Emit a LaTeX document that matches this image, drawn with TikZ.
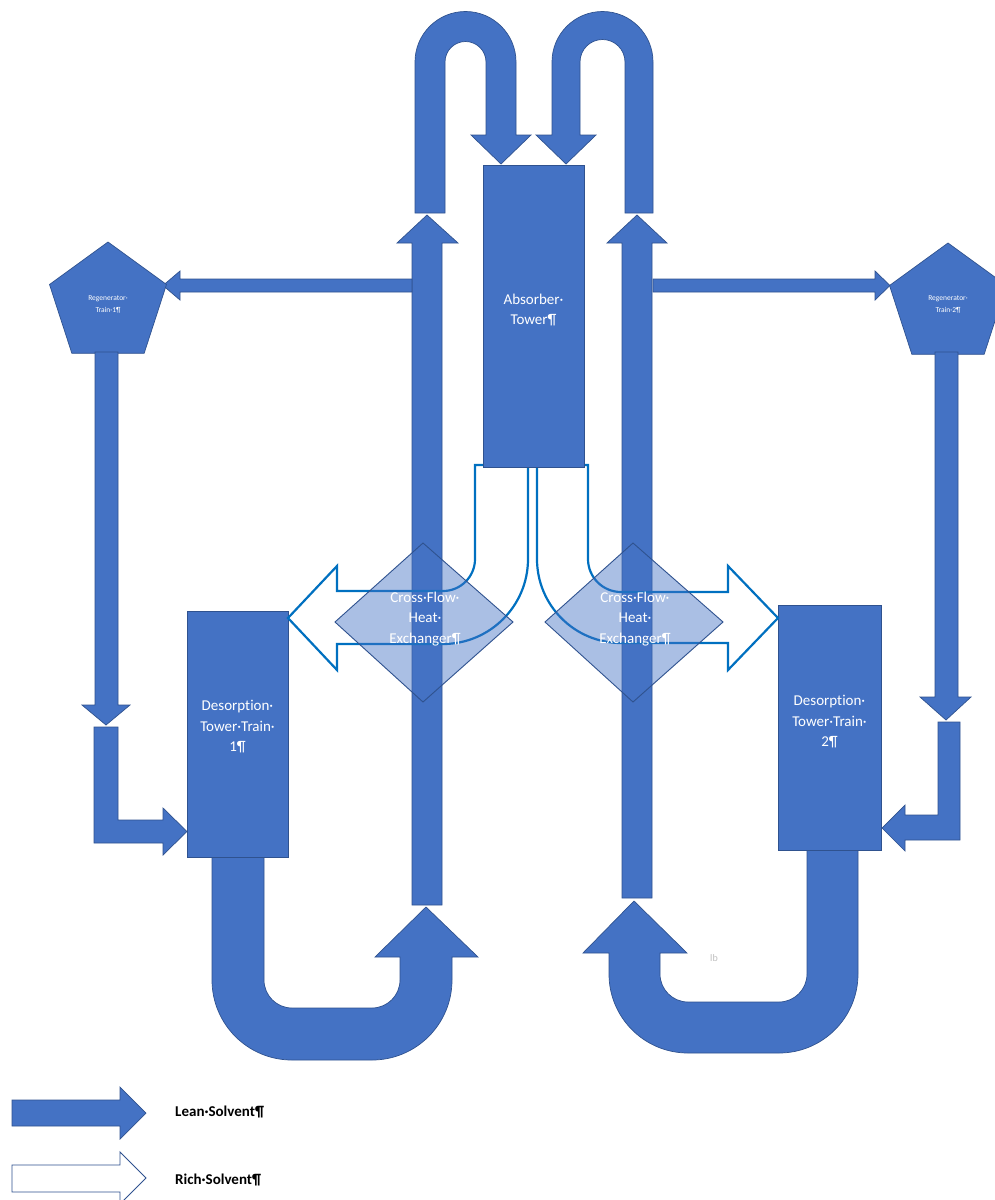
\documentclass[tikz,border=0pt]{standalone}
\usepackage{fontspec}
\setmainfont{Carlito}[Ligatures=NoCommon]
\usetikzlibrary{shapes.geometric}
\definecolor{lean}{HTML}{4472C4}
\definecolor{leanedge}{HTML}{2F528F}
\definecolor{rich}{HTML}{0070C0}
\definecolor{markgray}{HTML}{BFBFBF}
\begin{document}
\begin{tikzpicture}[x=1pt,y=-1pt,
  leanshape/.style={fill=lean, draw=leanedge, line width=0.7pt, line join=miter},
  richshape/.style={draw=rich, line width=2.2pt, line join=miter},
  legendrich/.style={fill=white, draw=leanedge, line width=0.9pt},
  hx/.style={fill=lean, fill opacity=0.45, draw=leanedge, line width=0.9pt},
  tower/.style={rectangle, fill=lean, draw=leanedge, line width=0.7pt, inner sep=0pt, outer sep=0pt},
  regen/.style={regular polygon, regular polygon sides=5, minimum size=123pt, fill=lean, draw=leanedge, line width=0.7pt, inner sep=0pt},
  lbl/.style={text=white, align=center, inner sep=0pt, font=\fontsize{15}{20.5}\selectfont},
  smalllbl/.style={text=white, align=center, inner sep=0pt, font=\fontsize{7.5}{12}\selectfont},
  legendlbl/.style={text=black, anchor=west, inner sep=0pt, font=\bfseries\fontsize{15}{17}\selectfont}]
\useasboundingbox[fill=white] (0,0) rectangle (995,1200);

% tall up arrows (lean solvent to absorber)
\path[leanshape] (412,905) -- (412,243) -- (397,243) -- (427,215) -- (458,243) -- (442,243) -- (442,905) -- cycle;
\path[leanshape] (622,898) -- (622,243) -- (607,243) -- (637,215) -- (667,243) -- (652,243) -- (652,898) -- cycle;

% horizontal arrows to regenerators
\path[leanshape] (412,279) -- (180,279) -- (180,271) -- (163,285.5) -- (180,300) -- (180,292) -- (412,292) -- cycle;
\path[leanshape] (653,279) -- (875,279) -- (875,271) -- (890,285.5) -- (875,300) -- (875,292) -- (653,292) -- cycle;

% top U-turn arrows into absorber
\path[leanshape] (415,213) -- (415,62) arc[start angle=180, end angle=360, radius=50.5] -- (516,135) -- (531,135) -- (501,164) -- (471,135) -- (486,135) -- (486,62) arc[start angle=0, end angle=-180, radius=20.5] -- (445,213) -- cycle;
\path[leanshape] (552,135) -- (552,62) arc[start angle=180, end angle=360, radius=50.5] -- (653,213) -- (625,213) -- (625,62) arc[start angle=0, end angle=-180, radius=22.5] -- (580,135) -- (596,135) -- (566,164) -- (536,135) -- cycle;

% regenerators
\node[regen] (regen1) at (108,303.5) {};
\node[regen] (regen2) at (948,304.5) {};

% down arrows from regenerators
\path[leanshape] (95,352) -- (118,352) -- (118,705) -- (130,705) -- (106,725) -- (82,705) -- (95,705) -- cycle;
\path[leanshape] (935,352) -- (958,352) -- (958,697) -- (971,697) -- (946,720) -- (920,697) -- (935,697) -- cycle;

% L arrows into desorption towers
\path[leanshape] (94,727) -- (118,727) -- (118,820) -- (163,820) -- (163,808) -- (187,831.5) -- (163,855) -- (163,843) -- (94,843) -- cycle;
\path[leanshape] (960,722) -- (938,722) -- (938,815) -- (905,815) -- (905,805) -- (882,828) -- (905,851) -- (905,840) -- (960,840) -- cycle;

% bottom U arrows from desorption towers
\path[leanshape] (212,857) -- (212,980) arc[start angle=180, end angle=90, radius=80] -- (372,1060) arc[start angle=90, end angle=0, radius=80] -- (452,957) -- (478,957) -- (426,907) -- (375,957) -- (400,957) -- (400,980) arc[start angle=0, end angle=90, radius=28] -- (292,1008) arc[start angle=90, end angle=180, radius=28] -- (264,857) -- cycle;
\path[leanshape] (609,953) -- (609,974) arc[start angle=180, end angle=90, radius=79] -- (779,1053) arc[start angle=90, end angle=0, radius=79] -- (858,850) -- (807,850) -- (807,974) arc[start angle=0, end angle=90, radius=28] -- (688,1002) arc[start angle=90, end angle=180, radius=28] -- (660,953) -- (687,953) -- (634,901) -- (583,953) -- cycle;

% desorption towers
\node[tower, minimum width=101pt, minimum height=246pt] (des1) at (237.5,734) {};
\node[tower, minimum width=103pt, minimum height=245pt] (des2) at (829.5,727.5) {};

% rich solvent bent arrows
\path[richshape] (475,465) -- (528,465) -- (528,559) arc[start angle=0, end angle=90, radius=85] -- (337,644) -- (337,670) -- (288,618) -- (337,566) -- (337,591) -- (443,591) arc[start angle=90, end angle=0, radius=32] -- cycle;
\path[richshape] (537,465) -- (588,465) -- (588,559) arc[start angle=180, end angle=90, radius=33] -- (728,592) -- (728,566) -- (778,618) -- (728,670) -- (728,643) -- (621,643) arc[start angle=90, end angle=180, radius=84] -- cycle;

% absorber
\node[tower, minimum width=101pt, minimum height=302pt] (abs) at (533.5,316) {};

% cross-flow heat exchangers
\path[hx] (423,543) -- (513,622) -- (423,702) -- (335,622) -- cycle;
\path[hx] (633,543) -- (723,622) -- (633,702) -- (545,622) -- cycle;

% labels
\node[lbl] (abslbl) at (533.5,310) {Absorber·\\Tower¶};
\node[lbl] (des1lbl) at (237.5,727) {Desorption·\\Tower·Train·\\1¶};
\node[lbl] (des2lbl) at (829.5,722) {Desorption·\\Tower·Train·\\2¶};
\node[lbl] (hx1lbl) at (425,619) {Cross·Flow·\\Heat·\\Exchanger¶};
\node[lbl] (hx2lbl) at (635,619) {Cross·Flow·\\Heat·\\Exchanger¶};
\node[smalllbl] (r1lbl) at (108,304) {Regenerator·\\Train·1¶};
\node[smalllbl] (r2lbl) at (948,304) {Regenerator·\\Train·2¶};
\node[text=markgray, inner sep=0pt, font=\fontsize{10}{12}\selectfont] (mark) at (714,958) {lb};

% legend
\path[leanshape] (12,1100) -- (120,1100) -- (120,1087) -- (146,1113) -- (120,1139) -- (120,1126) -- (12,1126) -- cycle;
\path[legendrich] (12,1165) -- (120,1165) -- (120,1152) -- (146,1178) -- (120,1204) -- (120,1192) -- (12,1192) -- cycle;
\node[legendlbl] (leanlbl) at (175,1112) {Lean·Solvent¶};
\node[legendlbl] (richlbl) at (175,1180) {Rich·Solvent¶};
\end{tikzpicture}
\end{document}
